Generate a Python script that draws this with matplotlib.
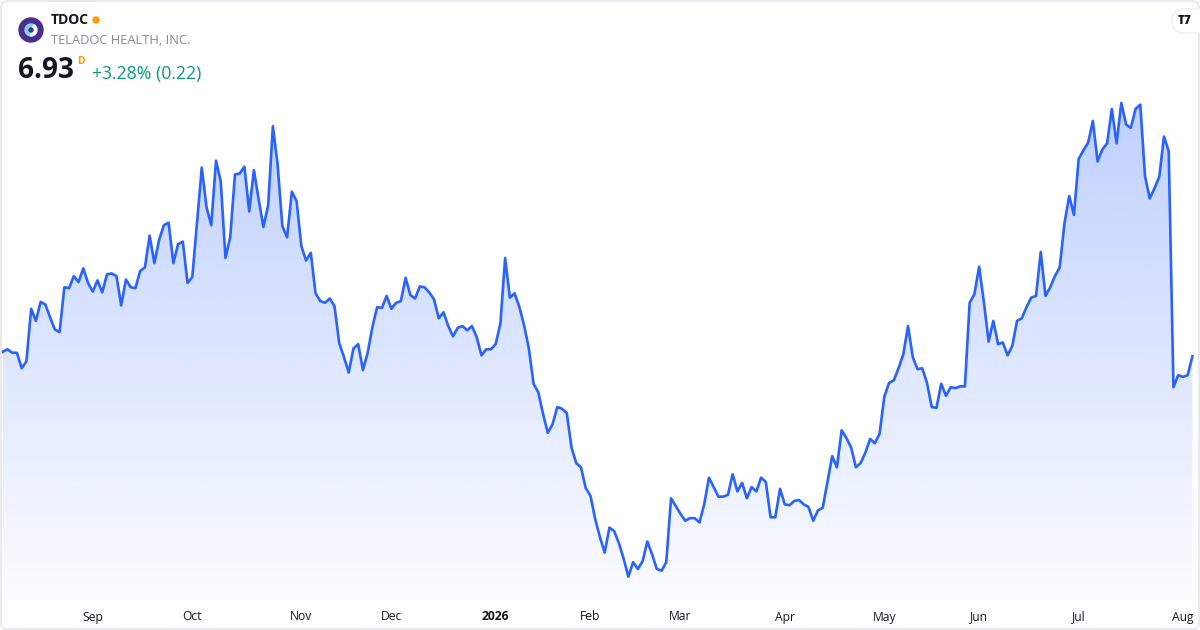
import numpy as np
import pandas as pd
import matplotlib
matplotlib.use("Agg")
import matplotlib.pyplot as plt
from matplotlib.patches import Circle, FancyBboxPatch, Wedge
from matplotlib.transforms import blended_transform_factory

plt.rcParams["font.family"] = ["Open Sans", "DejaVu Sans"]

# daily closes, TDOC, 2025-08-05 .. 2026-08-05
START = "2025-08-05"
END = "2026-08-05"
HOLIDAYS = ["2025-09-01", "2025-11-27", "2025-12-25", "2026-01-01",
            "2026-01-19", "2026-02-16", "2026-04-03", "2026-05-25",
            "2026-06-19", "2026-07-03"]

close = [
    6.98, 7.01, 6.97, 6.97, 6.79, 6.87, 7.48, 7.34, 7.56, 7.53,
    7.38, 7.24, 7.21, 7.73, 7.72, 7.86, 7.79, 7.95, 7.78, 7.68,
    7.81, 7.67, 7.88, 7.89, 7.86, 7.52, 7.82, 7.73, 7.72, 7.92,
    7.96, 8.33, 8.01, 8.28, 8.45, 8.48, 8.01, 8.23, 8.26, 7.78,
    7.85, 8.48, 9.12, 8.66, 8.45, 9.20, 8.96, 8.07, 8.31, 9.04,
    9.05, 9.13, 8.61, 9.09, 8.75, 8.43, 8.68, 9.60, 9.15, 8.44,
    8.31, 8.84, 8.73, 8.21, 8.04, 8.13, 7.66, 7.57, 7.55, 7.60,
    7.51, 7.08, 6.92, 6.74, 7.02, 7.07, 6.77, 6.97, 7.27, 7.50,
    7.49, 7.63, 7.48, 7.55, 7.57, 7.84, 7.64, 7.60, 7.74, 7.73,
    7.67, 7.59, 7.37, 7.44, 7.28, 7.16, 7.26, 7.28, 7.23, 7.28,
    7.15, 6.94, 7.01, 7.01, 7.07, 7.31, 8.07, 7.61, 7.66, 7.50,
    7.29, 7.02, 6.61, 6.51, 6.26, 6.04, 6.14, 6.34, 6.32, 6.27,
    5.87, 5.69, 5.64, 5.40, 5.31, 5.04, 4.83, 4.65, 4.94, 4.90,
    4.76, 4.58, 4.37, 4.54, 4.46, 4.55, 4.78, 4.63, 4.46, 4.44,
    4.54, 5.28, 5.19, 5.10, 5.02, 5.05, 5.05, 5.00, 5.21, 5.52,
    5.41, 5.30, 5.30, 5.32, 5.56, 5.36, 5.46, 5.28, 5.41, 5.36,
    5.52, 5.47, 5.06, 5.06, 5.39, 5.21, 5.20, 5.25, 5.26, 5.21,
    5.18, 5.02, 5.14, 5.17, 5.47, 5.77, 5.64, 6.07, 5.98, 5.87,
    5.64, 5.69, 5.81, 5.97, 5.92, 6.03, 6.46, 6.62, 6.65, 6.79,
    6.95, 7.28, 6.92, 6.78, 6.79, 6.62, 6.34, 6.33, 6.61, 6.47,
    6.57, 6.56, 6.58, 6.58, 7.55, 7.65, 7.97, 7.56, 7.10, 7.34,
    7.07, 7.09, 6.94, 7.05, 7.34, 7.37, 7.50, 7.61, 7.63, 8.14,
    7.63, 7.73, 7.86, 7.96, 8.47, 8.79, 8.57, 9.22, 9.32, 9.41,
    9.66, 9.19, 9.33, 9.40, 9.80, 9.40, 9.87, 9.62, 9.58, 9.80,
    9.85, 9.02, 8.76, 8.88, 9.01, 9.48, 9.31, 6.57, 6.71, 6.69,
    6.71, 6.93,
]

ticker = "TDOC"
company = "TELADOC HEALTH, INC."
last_price = "6.93"
change_text = "+3.28% (0.22)"

LINE = "#2962FF"
W, H = 1200, 630


def main() -> None:
    dates = pd.bdate_range(START, END, freq="C", holidays=HOLIDAYS)
    assert len(dates) == len(close)
    df = pd.DataFrame({"date": dates, "close": close})
    x = np.arange(len(df))

    fig = plt.figure(figsize=(W / 100, H / 100), dpi=100)
    fig.patch.set_facecolor("white")

    # main plot area: pixels 0..1200 wide, 90..600 tall
    ax = fig.add_axes([0, (H - 600) / H, 1, 510 / H])
    ax.set_xlim(-0.57, 252.6)
    ybot, ytop = 4.10, 10.02
    ax.set_ylim(ybot, ytop)
    ax.axis("off")

    poly = ax.fill_between(x, df["close"], ybot, facecolor="none", edgecolor="none")
    alpha = np.linspace(0.30, 0.02, 256)
    img = np.zeros((256, 1, 4))
    img[:, 0, 0] = 0x29 / 255
    img[:, 0, 1] = 0x62 / 255
    img[:, 0, 2] = 1.0
    img[:, 0, 3] = alpha
    im = ax.imshow(img, extent=[x[0], x[-1], ybot, df["close"].max()],
                   aspect="auto", origin="upper", zorder=1)
    im.set_clip_path(poly.get_paths()[0], transform=ax.transData)
    ax.plot(x, df["close"], color=LINE, lw=1.9, zorder=3,
            solid_joinstyle="round")

    # month labels at first trading day of each month
    trans = blended_transform_factory(ax.transData, fig.transFigure)
    month_start = df.groupby(df["date"].dt.to_period("M")).head(1)
    for i, d in zip(month_start.index, month_start["date"]):
        if i == 0:
            continue
        if d.month == 1:
            ax.text(i, 1 - 617 / H, str(d.year), transform=trans, ha="center",
                    va="center", fontsize=8.7, fontweight="bold", color="#131722")
        else:
            ax.text(i, 1 - 617 / H, d.strftime("%b"), transform=trans,
                    ha="center", va="center", fontsize=8.7, color="#131722")

    # overlay in pixel coordinates for header, logo and frame
    ov = fig.add_axes([0, 0, 1, 1])
    ov.set_xlim(0, W)
    ov.set_ylim(H, 0)
    ov.axis("off")
    ov.patch.set_alpha(0)

    ov.add_patch(FancyBboxPatch((1, 1), W - 2, H - 2,
                                boxstyle="round,pad=0,rounding_size=6",
                                fill=False, ec="#e0e3eb", lw=1))

    # logo
    ov.add_patch(Circle((31, 30), 12, color="#4a2d8c"))
    ov.add_patch(Wedge((31, 30), 6, 90, 300, width=2.6, color="#7fd3ee"))
    ov.add_patch(Wedge((31, 30), 6, 300, 450, width=2.6, color="white"))

    ov.text(51, 20, ticker, fontsize=10, fontweight="bold", color="#131722",
            va="center", ha="left")
    ov.add_patch(Circle((96, 20), 3, color="#ff9800"))
    ov.text(51, 40, company, fontsize=9.3, color="#868993", va="center", ha="left")
    ov.text(18, 71, last_price, fontsize=20.2, fontweight="bold",
            color="#131722", va="center", ha="left")
    ov.text(77, 61, "D", fontsize=7.5, fontweight="bold", color="#ff9800",
            va="center", ha="left")
    ov.text(92, 74, change_text, fontsize=12.7, color="#089981",
            va="center", ha="left")

    # tradingview badge
    ov.add_patch(FancyBboxPatch((1172, 9), 40, 24,
                                boxstyle="round,pad=0,rounding_size=12",
                                fc="white", ec="#eceef2", lw=1))
    ov.text(1185, 21, "T7", fontsize=8.5, fontweight="heavy", color="#131722",
            va="center", ha="center")

    fig.savefig("out.png", dpi=100)
    plt.close(fig)


if __name__ == "__main__":
    main()
